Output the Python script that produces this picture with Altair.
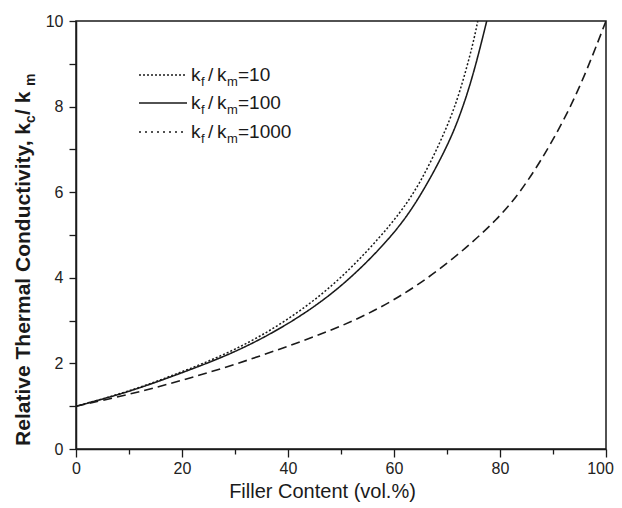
import altair as alt
import pandas as pd

# ---- data ----
ratio_labels = ["10", "100", "1000"]

x_k10 = [0, 10, 20, 30, 40, 50, 60, 70, 80, 85, 90, 95, 100]
y_k10 = [1.0, 1.27, 1.6, 1.97, 2.4, 2.85, 3.45, 4.3, 5.4, 6.2, 7.2, 8.4, 10.0]

x_k100 = [0, 10, 20, 30, 40, 50, 60, 65, 70, 72.5, 75, 77.5]
y_k100 = [1.0, 1.33, 1.78, 2.25, 2.9, 3.75, 5.0, 5.9, 7.05, 7.8, 8.75, 10.0]

x_k1000 = [0, 10, 20, 30, 40, 50, 60, 65, 70, 72.5, 75, 75.8]
y_k1000 = [1.0, 1.34, 1.8, 2.3, 3.0, 3.95, 5.3, 6.2, 7.5, 8.35, 9.5, 10.0]

x_ticks = list(range(0, 101, 10))
y_ticks = list(range(0, 11, 1))

rows = []
for name, xs, ys in [("10", x_k10, y_k10), ("100", x_k100, y_k100), ("1000", x_k1000, y_k1000)]:
    for a, b in zip(xs, ys):
        rows.append({"series": name, "x": a, "y": b})
df = pd.DataFrame(rows)

FONT = "Liberation Sans"
INK = "#1a1a1a"

lines = alt.Chart(df).mark_line(interpolate="basis", color=INK, clip=True).encode(
    x=alt.X("x:Q", scale=alt.Scale(domain=[0, 100], nice=False),
            axis=alt.Axis(values=x_ticks, labelExpr="datum.value % 20 === 0 ? datum.label : ''",
                          tickSize={"condition": {"test": "datum.value % 20 === 0", "value": 8}, "value": 5},
                          labelOffset={"condition": {"test": "datum.value === 100", "value": -6}, "value": 0},
                          title="Filler Content (vol.%)", titleFontSize=20, titleFontWeight="normal",
                          titleX=246, titleAlign="center",
                          titlePadding=5, labelFontSize=16, labelPadding=3, grid=False, labelFlush=False)),
    y=alt.Y("y:Q", scale=alt.Scale(domain=[0, 10], nice=False),
            axis=alt.Axis(values=y_ticks, labelExpr="datum.value % 2 === 0 ? datum.label : ''",
                          tickSize=7, title=None, labelFontSize=16, labelPadding=6, grid=False)),
    strokeDash=alt.StrokeDash("series:N", scale=alt.Scale(domain=ratio_labels, range=[[9, 5], [1, 0], [2, 2]]), legend=None),
    strokeWidth=alt.StrokeWidth("series:N", scale=alt.Scale(domain=ratio_labels, range=[1.6, 1.5, 1.3]), legend=None),
    detail="series:N",
)

one = pd.DataFrame({"a": [0]})
layers = [lines]

# ---- legend (drawn manually to allow subscripts) ----
legend_dash = [[2, 2], [1, 0], [2, 4]]
row_y = [54, 82, 111]
for lab, dash, ry in zip(ratio_labels, legend_dash, row_y):
    layers.append(alt.Chart(one).mark_rule(color=INK, strokeWidth=1.5, strokeDash=dash).encode(
        x=alt.value(63), x2=alt.value(111), y=alt.value(ry)))
    pieces = [("k", 115, 0, 19), ("f", 125, 7, 13), ("/", 132, 0, 19), ("k", 141, 0, 19),
              ("m", 151, 7, 13), ("=" + lab, 162, 0, 19)]
    for t, px, dy, fs in pieces:
        layers.append(alt.Chart(one).mark_text(align="left", baseline="middle", font=FONT, fontSize=fs,
                                               color=INK).encode(
            x=alt.value(px), y=alt.value(ry + dy), text=alt.value(t)))

# ---- y title with subscripts ----
ytx = -46
layers.append(alt.Chart(one).mark_text(angle=270, align="right", baseline="alphabetic", font=FONT, fontSize=21,
                                       fontWeight="bold", color=INK).encode(
    x=alt.value(ytx), y=alt.value(102), text=alt.value("Relative Thermal Conductivity, k")))
layers.append(alt.Chart(one).mark_text(angle=270, align="left", baseline="alphabetic", font=FONT, fontSize=14,
                                       fontWeight="bold", color=INK).encode(
    x=alt.value(ytx + 5), y=alt.value(102), text=alt.value("c")))
layers.append(alt.Chart(one).mark_text(angle=270, align="left", baseline="alphabetic", font=FONT, fontSize=21,
                                       fontWeight="bold", color=INK).encode(
    x=alt.value(ytx), y=alt.value(94), text=alt.value("\u00a0/ k")))
layers.append(alt.Chart(one).mark_text(angle=270, align="left", baseline="alphabetic", font=FONT, fontSize=14,
                                       fontWeight="bold", color=INK).encode(
    x=alt.value(ytx + 5), y=alt.value(65), text=alt.value("m")))

chart = alt.layer(*layers).properties(
    width=530, height=428,
    padding={"left": 68, "top": 13, "right": 8, "bottom": 57},
    autosize=alt.AutoSizeParams(type="none"),
    background="white",
).configure_view(stroke=INK, strokeWidth=1.5).configure_axis(
    domainColor=INK, domainWidth=1.5, tickColor=INK, tickWidth=1.3,
    labelColor="#222", titleColor=INK, labelFont=FONT, titleFont=FONT,
)

chart.save("out.html", embed_options={"renderer": "svg", "actions": False})
